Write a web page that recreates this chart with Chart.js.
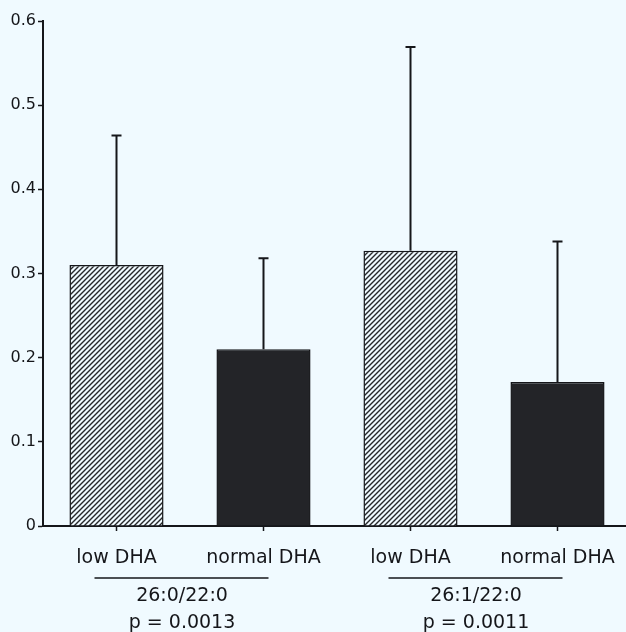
<!DOCTYPE html>
<html>
<head>
<meta charset="utf-8">
<script src="https://cdn.jsdelivr.net/npm/chart.js@4.4.1/dist/chart.umd.min.js"></script>
<style>
  html, body { margin: 0; padding: 0; overflow: hidden; background: #f0faff; }
  #wrap { width: 640px; height: 632px; }
</style>
</head>
<body>
<div id="wrap"><canvas id="c" width="640" height="632" style="width:640px;height:632px"></canvas></div>
<script>
// ---- data ----
const categories = ['low DHA', 'normal DHA', 'low DHA', 'normal DHA'];
const means = [0.310, 0.210, 0.327, 0.171];
const errorTops = [0.464, 0.318, 0.569, 0.338];
const yTickLabels = ['0', '0.1', '0.2', '0.3', '0.4', '0.5', '0.6'];
const groupRatios = ['26:0/22:0', '26:1/22:0'];
const groupP = ['p = 0.0013', 'p = 0.0011'];

// ---- styles ----
const BG = '#f0faff';
const INK = '#15161a';
const FONT = '"DejaVu Sans", sans-serif';

function hatchPattern() {
  const s = 5;
  const p = document.createElement('canvas');
  p.width = s; p.height = s;
  const g = p.getContext('2d');
  g.fillStyle = BG;
  g.fillRect(0, 0, s, s);
  g.strokeStyle = '#26272a';
  g.lineWidth = 1.4;
  g.beginPath();
  g.moveTo(-1, s + 1); g.lineTo(s + 1, -1);
  g.moveTo(-1, 1); g.lineTo(1, -1);
  g.moveTo(s - 1, s + 1); g.lineTo(s + 1, s - 1);
  g.stroke();
  return g.createPattern(p, 'repeat');
}
const hatch = hatchPattern();

const bgPlugin = {
  id: 'bg',
  beforeDraw(chart) {
    const ctx = chart.ctx;
    ctx.save();
    ctx.fillStyle = BG;
    ctx.fillRect(0, 0, chart.width, chart.height);
    ctx.restore();
  }
};

const errorPlugin = {
  id: 'errbars',
  afterDatasetsDraw(chart) {
    const ctx = chart.ctx;
    const y = chart.scales.y;
    const meta = chart.getDatasetMeta(0);
    ctx.save();
    ctx.strokeStyle = INK;
    ctx.lineWidth = 2;
    meta.data.forEach((el, i) => {
      const ty = y.getPixelForValue(errorTops[i]);
      ctx.beginPath();
      ctx.moveTo(el.x, el.y);
      ctx.lineTo(el.x, ty);
      ctx.moveTo(el.x - 5, ty);
      ctx.lineTo(el.x + 5, ty);
      ctx.stroke();
    });
    ctx.restore();
  }
};

const groupPlugin = {
  id: 'groups',
  afterDraw(chart) {
    const ctx = chart.ctx;
    const x = chart.scales.x;
    ctx.save();
    ctx.fillStyle = INK;
    ctx.strokeStyle = INK;
    ctx.lineWidth = 1.5;
    ctx.font = '19px ' + FONT;
    ctx.textAlign = 'center';
    ctx.textBaseline = 'middle';
    for (let g = 0; g < groupRatios.length; g++) {
      const x0 = x.getPixelForValue(g * 2);
      const x1 = x.getPixelForValue(g * 2 + 1);
      const cx = (x0 + x1) / 2 - 8;
      ctx.beginPath();
      ctx.moveTo(x0 - 22, 578);
      ctx.lineTo(x1 + 5, 578);
      ctx.stroke();
      ctx.fillText(groupRatios[g], cx, 596);
      ctx.fillText(groupP[g], cx, 623);
    }
    ctx.restore();
  }
};

new Chart(document.getElementById('c'), {
  type: 'bar',
  data: {
    labels: categories,
    datasets: [{
      data: means,
      backgroundColor: [hatch, '#232428', hatch, '#232428'],
      borderColor: INK,
      borderWidth: 1.5,
      borderSkipped: 'bottom',
      categoryPercentage: 1.0,
      barPercentage: 0.64
    }]
  },
  options: {
    responsive: false,
    animation: false,
    layout: { padding: { top: 21, right: 9, left: 0, bottom: 0 } },
    plugins: { legend: { display: false }, tooltip: { enabled: false } },
    scales: {
      x: {
        offset: true,
        afterFit(scale) { scale.height = 106; },
        grid: { display: true, drawOnChartArea: false, offset: false, tickLength: 5, tickColor: INK, tickWidth: 1.5 },
        border: { display: true, color: INK, width: 2 },
        ticks: { color: INK, font: { family: FONT, size: 19 }, padding: 16, maxRotation: 0, autoSkip: false }
      },
      y: {
        min: 0,
        max: 0.6,
        afterFit(scale) { scale.width = 43; },
        grid: { display: true, drawOnChartArea: false, tickLength: 5, tickColor: INK, tickWidth: 1.5 },
        border: { display: true, color: INK, width: 2 },
        ticks: {
          stepSize: 0.1,
          padding: 2,
          color: INK,
          font: { family: FONT, size: 16 },
          callback: (v, i) => yTickLabels[i]
        }
      }
    }
  },
  plugins: [bgPlugin, errorPlugin, groupPlugin]
});
</script>
</body>
</html>
